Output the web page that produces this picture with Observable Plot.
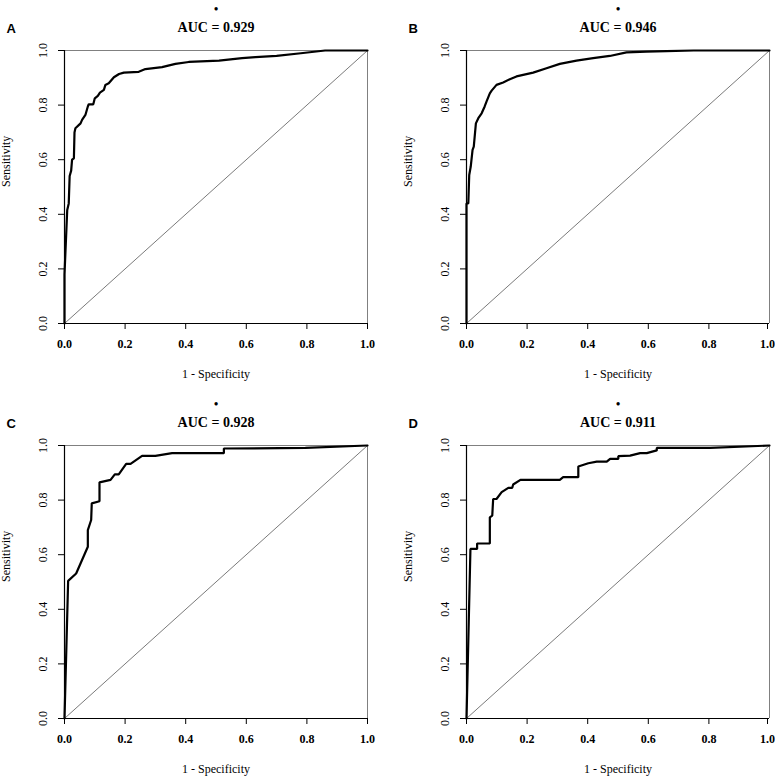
<!DOCTYPE html>
<html>
<head>
<meta charset="utf-8">
<script src="https://cdn.jsdelivr.net/npm/d3@7"></script>
<script src="https://cdn.jsdelivr.net/npm/@observablehq/plot@0.6"></script>
<style>
  html, body { margin: 0; padding: 0; background: #fff; }
  #wrap { position: relative; width: 775px; height: 778px; overflow: hidden; }
  .panel { position: absolute; }
  .panel svg text { font-family: 'Liberation Serif', 'Times New Roman', Times, serif; }
  .panel svg .letter text { font-family: 'Liberation Sans', Arial, Helvetica, sans-serif; }
</style>
</head>
<body>
<div id="wrap"></div>
<script>
// ---- data ----
const panelLetters = ["A", "B", "C", "D"];
const aucLabels = ["AUC = 0.929", "AUC = 0.946", "AUC = 0.928", "AUC = 0.911"];
const axisTicks = [0, 0.2, 0.4, 0.6, 0.8, 1.0];
const xTitle = "1 - Specificity";
const yTitle = "Sensitivity";
const diagonalFpr = [0, 1];
const diagonalTpr = [0, 1];

const fprA = [0, 0, 0.009, 0.014, 0.017, 0.022, 0.025, 0.031, 0.033, 0.036, 0.053, 0.058, 0.069, 0.077, 0.08, 0.095, 0.1, 0.11, 0.117, 0.13, 0.135, 0.146, 0.163, 0.18, 0.196, 0.245, 0.267, 0.322, 0.366, 0.41, 0.51, 0.586, 0.63, 0.7, 0.78, 0.86, 1];
const tprA = [0, 0.18, 0.416, 0.44, 0.54, 0.56, 0.60, 0.605, 0.70, 0.715, 0.733, 0.746, 0.764, 0.795, 0.803, 0.803, 0.825, 0.834, 0.846, 0.856, 0.874, 0.88, 0.902, 0.914, 0.919, 0.922, 0.932, 0.939, 0.951, 0.958, 0.963, 0.972, 0.976, 0.98, 0.99, 1.0, 1.0];

const fprB = [0, 0, 0.006, 0.009, 0.014, 0.02, 0.024, 0.031, 0.039, 0.05, 0.06, 0.066, 0.077, 0.083, 0.099, 0.121, 0.143, 0.165, 0.22, 0.264, 0.308, 0.363, 0.418, 0.473, 0.528, 0.594, 0.66, 0.75, 1];
const tprB = [0, 0.44, 0.44, 0.544, 0.575, 0.636, 0.648, 0.733, 0.752, 0.77, 0.795, 0.813, 0.843, 0.853, 0.874, 0.883, 0.895, 0.905, 0.919, 0.935, 0.951, 0.963, 0.972, 0.98, 0.993, 0.996, 0.998, 1, 1];

const fprC = [0, 0.012, 0.0385, 0.077, 0.077, 0.088, 0.09, 0.1155, 0.1155, 0.152, 0.166, 0.179, 0.2035, 0.218, 0.256, 0.3, 0.355, 0.526, 0.526, 0.795, 1];
const tprC = [0, 0.504, 0.531, 0.629, 0.69, 0.727, 0.788, 0.796, 0.865, 0.874, 0.894, 0.894, 0.933, 0.933, 0.962, 0.962, 0.972, 0.972, 0.989, 0.991, 1];

const fprD = [0, 0.013, 0.035, 0.035, 0.077, 0.077, 0.085, 0.088, 0.099, 0.116, 0.138, 0.151, 0.154, 0.178, 0.308, 0.319, 0.369, 0.369, 0.402, 0.43, 0.463, 0.474, 0.501, 0.501, 0.54, 0.573, 0.595, 0.628, 0.628, 0.804, 1];
const tprD = [0, 0.621, 0.621, 0.641, 0.641, 0.737, 0.743, 0.804, 0.804, 0.829, 0.845, 0.845, 0.857, 0.874, 0.874, 0.884, 0.884, 0.923, 0.935, 0.941, 0.941, 0.951, 0.951, 0.961, 0.963, 0.972, 0.972, 0.982, 0.991, 0.991, 1];

const curves = [[fprA, tprA], [fprB, tprB], [fprC, tprC], [fprD, tprD]];

// ---- drawing ----
const serif = "Liberation Serif";
const sans = "Liberation Sans";
const positions = [[0, 0], [402, 0], [0, 395], [402, 395]];
const wrap = document.getElementById("wrap");

curves.forEach(([fpr, tpr], i) => {
  const pts = fpr.map((f, j) => ({fpr: f, tpr: tpr[j]}));
  const diag = diagonalFpr.map((f, j) => ({fpr: f, tpr: diagonalTpr[j]}));
  const rightPanel = i % 2 === 1;
  const innerTicks = axisTicks.slice(0, -1);
  const lastTick = axisTicks.slice(-1);
  const chart = Plot.plot({
    width: 372,
    height: 383,
    marginLeft: 64,
    marginRight: 5,
    marginTop: 50,
    marginBottom: 60,
    style: {fontFamily: serif, fontSize: "12px", color: "black", background: "white", overflow: "visible"},
    x: {domain: [0, 1]},
    y: {domain: [0, 1]},
    marks: [
      Plot.ruleY([1], {stroke: "#808080", strokeWidth: 1}),
      Plot.ruleX([1], {stroke: "#808080", strokeWidth: 1}),
      Plot.line(diag, {x: "fpr", y: "tpr", stroke: "#7a7a7a", strokeWidth: 1}),
      Plot.line(pts, {x: "fpr", y: "tpr", stroke: "black", strokeWidth: 2.2, strokeLinejoin: "miter"}),
      Plot.ruleY([0], {stroke: "black", strokeWidth: 1.2}),
      Plot.ruleX([0], {stroke: "black", strokeWidth: 1.2}),
      Plot.axisX({ticks: innerTicks, tickFormat: d3.format(".1f"), tickSize: 6, tickPadding: 10, label: null, fontWeight: "bold", fontSize: 12, fontFamily: serif}),
      Plot.axisX({ticks: lastTick, tickFormat: d3.format(".1f"), tickSize: 6, tickPadding: 10, label: null, fontWeight: "bold", fontSize: 12, fontFamily: serif, dx: rightPanel ? -2 : 0}),
      Plot.axisY({ticks: axisTicks, tickFormat: d3.format(".1f"), tickSize: 6, tickPadding: 12, tickRotate: -90, label: null, fontSize: 12, fontFamily: serif}),
      Plot.text([xTitle], {frameAnchor: "bottom", dy: 54, text: d => d, fontSize: 12, fontFamily: serif, fill: "black"}),
      Plot.text([yTitle], {frameAnchor: "left", dx: -58, rotate: -90, text: d => d, fontSize: 12, fontFamily: serif, fill: "black"}),
      Plot.text([aucLabels[i]], {frameAnchor: "top", dy: -28, text: d => d, fontSize: 14, fontWeight: "bold", fontFamily: serif, fill: "black"}),
      Plot.text(["\u2022"], {frameAnchor: "top", dy: -46, text: d => d, fontSize: 12, fontWeight: "bold", fontFamily: serif, fill: "black"}),
      Plot.text([panelLetters[i]], {frameAnchor: "top-left", dx: -58, dy: -27, textAnchor: "start", text: d => d, fontSize: 13, fontWeight: "bold", fontFamily: sans, fill: "black", className: "letter"})
    ]
  });
  const div = document.createElement("div");
  div.className = "panel";
  div.style.left = positions[i][0] + "px";
  div.style.top = positions[i][1] + "px";
  div.appendChild(chart);
  wrap.appendChild(div);
});
</script>
</body>
</html>
